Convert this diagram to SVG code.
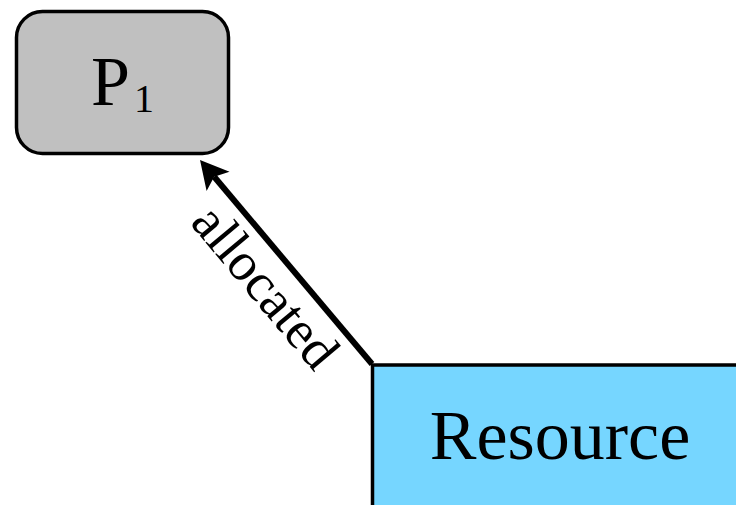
<svg xmlns="http://www.w3.org/2000/svg" width="736" height="505" viewBox="0 0 736 505">
  <style>
    .lbl { font-family: "Liberation Serif", "Times New Roman", serif; fill: #000; }
    .box { stroke: #000; stroke-width: 3.5; }
  </style>
  <defs>
    <marker id="ah" markerUnits="userSpaceOnUse" orient="auto" refX="0" refY="0" markerWidth="40" markerHeight="40" overflow="visible">
      <path d="M-6,-15 L22,0 L-6,15 L0,0 Z" fill="#000"/>
    </marker>
  </defs>
  <rect x="0" y="0" width="736" height="505" fill="#fff"/>
  <g id="connectors">
    <line x1="372" y1="364" x2="214.2" y2="176.8" stroke="#000" stroke-width="6" marker-end="url(#ah)"/>
    <text class="lbl" font-size="54" text-anchor="middle" transform="translate(252,298) rotate(50)">allocated</text>
  </g>
  <g id="P1">
    <rect class="box" x="16.5" y="11.5" width="212" height="142" rx="26" ry="26" fill="#c0c0c0"/>
    <text class="lbl" font-size="70" x="91" y="105">P<tspan x="134" y="112" font-size="40">1</tspan></text>
  </g>
  <g id="Resource">
    <rect class="box" x="372.5" y="365" width="400" height="200" fill="#76d6ff"/>
    <text class="lbl" font-size="70" x="560" y="459" text-anchor="middle">Resource</text>
  </g>
</svg>
